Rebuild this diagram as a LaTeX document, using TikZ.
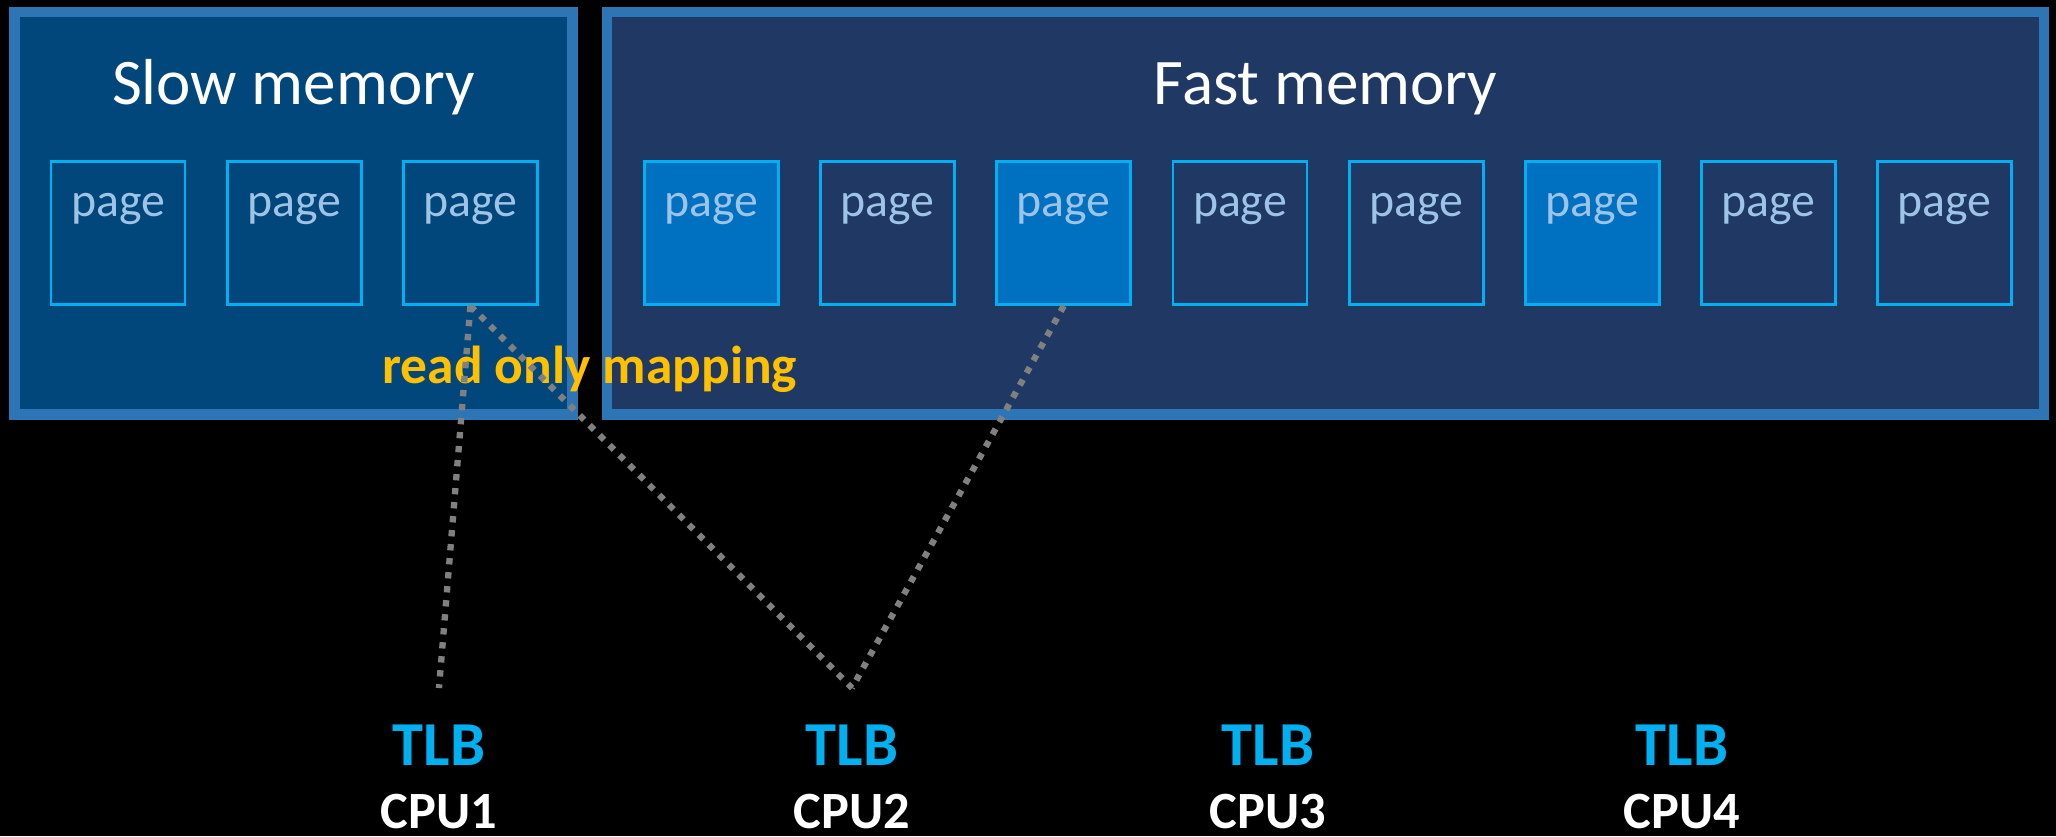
\documentclass[tikz,border=0pt]{standalone}
\usepackage{fontspec}
\setmainfont{Carlito}
\usetikzlibrary{positioning,calc}
\definecolor{slowblue}{RGB}{2,71,124}
\definecolor{fastblue}{RGB}{32,56,100}
\definecolor{frameblue}{RGB}{46,117,182}
\definecolor{pageline}{RGB}{0,176,240}
\definecolor{pagefill}{RGB}{0,112,192}
\definecolor{pagetext}{RGB}{157,195,230}
\definecolor{mapyellow}{RGB}{255,192,0}
\definecolor{dotgray}{RGB}{128,128,128}
\tikzset{
    % Define memory area style
    membox/.style={
           draw=frameblue,
           line width=3pt,
           minimum width=#1,
           minimum height=4.025cm,
           inner sep=0pt,},
    % Define page style
    pagebox/.style={
           draw=pageline,
           line width=0.8pt,
           minimum width=1.34cm,
           inner sep=0pt,
           text height=0.55cm,
           text depth=0.88cm,
           text=pagetext,
           font=\fontsize{13.6}{15}\selectfont,},
    % Define mapping line style
    maps/.style={
           draw=dotgray,
           line width=1.8pt,
           dash pattern=on 1.8pt off 2.2pt,}
}

\begin{document}
\begin{tikzpicture}[
titlenode/.style={text=white, font=\fontsize{18.5}{21}\selectfont},
tlbnode/.style={text=pageline, font=\bfseries\fontsize{17.8}{20}\selectfont},
cpunode/.style={text=white, font=\bfseries\fontsize{14.9}{17}\selectfont},
]
\fill[black] (0,0) rectangle (20.56,8.36);
\useasboundingbox (0,0) rectangle (20.56,8.36);

%Memory
\node[membox=5.585cm, fill=slowblue](slow) at (2.935,6.229){};
\node[membox=14.371cm, fill=fastblue](fast) at (13.256,6.229){};
\node[titlenode, below=0.98cm of slow.north, anchor=base](slowtitle){Slow memory};
\node[titlenode, below=0.98cm of fast.north, anchor=base](fasttitle){Fast memory};

%Pages
\node[pagebox](s1) at (1.18,6.03){page};
\node[pagebox, right=0.394cm of s1](s2){page};
\node[pagebox, right=0.394cm of s2](s3){page};

\node[pagebox, fill=pagefill](f1) at (7.113,6.03){page};
\node[pagebox, right=0.394cm of f1](f2){page};
\node[pagebox, fill=pagefill, right=0.394cm of f2](f3){page};
\node[pagebox, right=0.394cm of f3](f4){page};
\node[pagebox, right=0.394cm of f4](f5){page};
\node[pagebox, fill=pagefill, right=0.394cm of f5](f6){page};
\node[pagebox, right=0.394cm of f6](f7){page};
\node[pagebox, right=0.394cm of f7](f8){page};

\node[text=mapyellow, font=\bfseries\fontsize{15.2}{18}\selectfont, anchor=base](ro)
  at ($(slow.south east)!0.5!(fast.south west)+(0,0.366)$){read only mapping};

%CPUs
\node[tlbnode, anchor=base](tlb1) at (4.39,0.71){TLB};
\node[tlbnode, anchor=base](tlb2) at (8.52,0.71){TLB};
\node[tlbnode, anchor=base](tlb3) at (12.68,0.71){TLB};
\node[tlbnode, anchor=base](tlb4) at (16.82,0.71){TLB};
\node[cpunode, below=0.63cm of tlb1.base, anchor=base](cpu1){CPU1};
\node[cpunode, below=0.63cm of tlb2.base, anchor=base](cpu2){CPU2};
\node[cpunode, below=0.63cm of tlb3.base, anchor=base](cpu3){CPU3};
\node[cpunode, below=0.63cm of tlb4.base, anchor=base](cpu4){CPU4};

\coordinate (e1) at ($(tlb1.base)+(0,0.77)$);
\coordinate (e2) at ($(tlb2.base)+(0,0.77)$);

\path[maps] (s3.south) edge (e1);
\path[maps] (s3.south) edge (e2);
\path[maps] (f3.south) edge (e2);

\end{tikzpicture}
\end{document}
